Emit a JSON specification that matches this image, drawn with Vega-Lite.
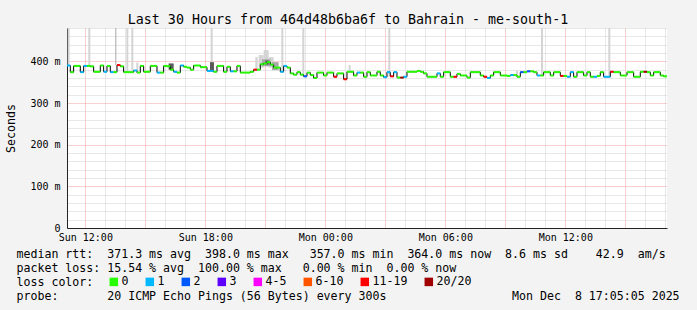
{
  "$schema": "https://vega.github.io/schema/vega-lite/v6.json",
  "width": 600,
  "height": 200,
  "autosize": {"type": "none"},
  "padding": {"left": 67, "top": 28, "right": 30, "bottom": 82},
  "background": "#f3f3f3",
  "view": {"fill": "#ffffff", "stroke": null},
  "title": {"text": "Last 30 Hours from 464d48b6ba6f to Bahrain - me-south-1", "font": "DejaVu Sans Mono", "fontSize": 13.3, "fontWeight": "normal", "color": "#000000", "frame": "group", "anchor": "middle", "dx": -19, "offset": -14, "baseline": "alphabetic"},
  "data": {"values": [
      {"t":"2025-12-07T11:05","m":0.390,"l":"1"},{"t":"2025-12-07T11:15","m":0.374,"l":"0"},{"t":"2025-12-07T11:25","m":0.389,"l":"0"},{"t":"2025-12-07T11:35","m":0.389,"l":"0"},{"t":"2025-12-07T11:45","m":0.374,"l":"1"},{"t":"2025-12-07T11:55","m":0.389,"l":"1"},
      {"t":"2025-12-07T12:05","m":0.389,"l":"0"},{"t":"2025-12-07T12:15","m":0.388,"l":"0"},{"t":"2025-12-07T12:25","m":0.375,"l":"0"},{"t":"2025-12-07T12:35","m":0.375,"l":"0"},{"t":"2025-12-07T12:45","m":0.390,"l":"0"},{"t":"2025-12-07T12:55","m":0.375,"l":"1"},
      {"t":"2025-12-07T13:05","m":0.389,"l":"0"},{"t":"2025-12-07T13:15","m":0.374,"l":"1"},{"t":"2025-12-07T13:25","m":0.374,"l":"0"},{"t":"2025-12-07T13:35","m":0.391,"l":"11-19"},{"t":"2025-12-07T13:45","m":0.388,"l":"0"},{"t":"2025-12-07T13:55","m":0.374,"l":"0"},
      {"t":"2025-12-07T14:05","m":0.374,"l":"0"},{"t":"2025-12-07T14:15","m":0.374,"l":"0"},{"t":"2025-12-07T14:25","m":0.378,"l":"1"},{"t":"2025-12-07T14:35","m":0.373,"l":"0"},{"t":"2025-12-07T14:45","m":0.389,"l":"0"},{"t":"2025-12-07T14:55","m":0.375,"l":"0"},
      {"t":"2025-12-07T15:05","m":0.375,"l":"0"},{"t":"2025-12-07T15:15","m":0.389,"l":"0"},{"t":"2025-12-07T15:25","m":0.389,"l":"0"},{"t":"2025-12-07T15:35","m":0.373,"l":"1"},{"t":"2025-12-07T15:45","m":0.373,"l":"0"},{"t":"2025-12-07T15:55","m":0.389,"l":"0"},
      {"t":"2025-12-07T16:05","m":0.388,"l":"0"},{"t":"2025-12-07T16:15","m":0.380,"l":"0"},{"t":"2025-12-07T16:25","m":0.375,"l":"1"},{"t":"2025-12-07T16:35","m":0.373,"l":"0"},{"t":"2025-12-07T16:45","m":0.390,"l":"1"},{"t":"2025-12-07T16:55","m":0.387,"l":"0"},
      {"t":"2025-12-07T17:05","m":0.385,"l":"0"},{"t":"2025-12-07T17:15","m":0.380,"l":"0"},{"t":"2025-12-07T17:25","m":0.390,"l":"0"},{"t":"2025-12-07T17:35","m":0.390,"l":"0"},{"t":"2025-12-07T17:45","m":0.386,"l":"0"},{"t":"2025-12-07T17:55","m":0.386,"l":"0"},
      {"t":"2025-12-07T18:05","m":0.377,"l":"1"},{"t":"2025-12-07T18:15","m":0.377,"l":"1"},{"t":"2025-12-07T18:25","m":0.375,"l":"0"},{"t":"2025-12-07T18:35","m":0.389,"l":"0"},{"t":"2025-12-07T18:45","m":0.389,"l":"0"},{"t":"2025-12-07T18:55","m":0.375,"l":"0"},
      {"t":"2025-12-07T19:05","m":0.387,"l":"0"},{"t":"2025-12-07T19:15","m":0.376,"l":"1"},{"t":"2025-12-07T19:25","m":0.376,"l":"0"},{"t":"2025-12-07T19:35","m":0.389,"l":"0"},{"t":"2025-12-07T19:45","m":0.373,"l":"0"},{"t":"2025-12-07T19:55","m":0.373,"l":"0"},
      {"t":"2025-12-07T20:05","m":0.373,"l":"0"},{"t":"2025-12-07T20:15","m":0.375,"l":"0"},{"t":"2025-12-07T20:25","m":0.380,"l":"11-19"},{"t":"2025-12-07T20:35","m":0.380,"l":"0"},{"t":"2025-12-07T20:45","m":0.393,"l":"0"},{"t":"2025-12-07T20:55","m":0.395,"l":"0"},
      {"t":"2025-12-07T21:05","m":0.398,"l":"0"},{"t":"2025-12-07T21:15","m":0.392,"l":"0"},{"t":"2025-12-07T21:25","m":0.385,"l":"0"},{"t":"2025-12-07T21:35","m":0.385,"l":"0"},{"t":"2025-12-07T21:45","m":0.375,"l":"1"},{"t":"2025-12-07T21:55","m":0.389,"l":"1"},
      {"t":"2025-12-07T22:05","m":0.385,"l":"0"},{"t":"2025-12-07T22:15","m":0.371,"l":"0"},{"t":"2025-12-07T22:25","m":0.368,"l":"0"},{"t":"2025-12-07T22:35","m":0.374,"l":"0"},{"t":"2025-12-07T22:45","m":0.368,"l":"0"},{"t":"2025-12-07T22:55","m":0.364,"l":"2"},
      {"t":"2025-12-07T23:05","m":0.373,"l":"0"},{"t":"2025-12-07T23:15","m":0.367,"l":"0"},{"t":"2025-12-07T23:25","m":0.360,"l":"0"},{"t":"2025-12-07T23:35","m":0.373,"l":"0"},{"t":"2025-12-07T23:45","m":0.373,"l":"0"},{"t":"2025-12-07T23:55","m":0.366,"l":"0"},
      {"t":"2025-12-08T00:05","m":0.373,"l":"0"},{"t":"2025-12-08T00:15","m":0.373,"l":"0"},{"t":"2025-12-08T00:25","m":0.363,"l":"11-19"},{"t":"2025-12-08T00:35","m":0.371,"l":"0"},{"t":"2025-12-08T00:45","m":0.371,"l":"0"},{"t":"2025-12-08T00:55","m":0.357,"l":"11-19"},
      {"t":"2025-12-08T01:05","m":0.375,"l":"0"},{"t":"2025-12-08T01:15","m":0.375,"l":"0"},{"t":"2025-12-08T01:25","m":0.366,"l":"0"},{"t":"2025-12-08T01:35","m":0.373,"l":"1"},{"t":"2025-12-08T01:45","m":0.373,"l":"0"},{"t":"2025-12-08T01:55","m":0.363,"l":"0"},
      {"t":"2025-12-08T02:05","m":0.374,"l":"0"},{"t":"2025-12-08T02:15","m":0.366,"l":"0"},{"t":"2025-12-08T02:25","m":0.366,"l":"0"},{"t":"2025-12-08T02:35","m":0.375,"l":"0"},{"t":"2025-12-08T02:45","m":0.366,"l":"0"},{"t":"2025-12-08T02:55","m":0.362,"l":"1"},
      {"t":"2025-12-08T03:05","m":0.374,"l":"1"},{"t":"2025-12-08T03:15","m":0.364,"l":"11-19"},{"t":"2025-12-08T03:25","m":0.374,"l":"1"},{"t":"2025-12-08T03:35","m":0.361,"l":"0"},{"t":"2025-12-08T03:45","m":0.361,"l":"20/20"},{"t":"2025-12-08T03:55","m":0.363,"l":"1"},
      {"t":"2025-12-08T04:05","m":0.375,"l":"0"},{"t":"2025-12-08T04:15","m":0.375,"l":"0"},{"t":"2025-12-08T04:25","m":0.375,"l":"0"},{"t":"2025-12-08T04:35","m":0.377,"l":"0"},{"t":"2025-12-08T04:45","m":0.375,"l":"0"},{"t":"2025-12-08T04:55","m":0.371,"l":"0"},
      {"t":"2025-12-08T05:05","m":0.363,"l":"0"},{"t":"2025-12-08T05:15","m":0.363,"l":"0"},{"t":"2025-12-08T05:25","m":0.363,"l":"0"},{"t":"2025-12-08T05:35","m":0.371,"l":"1"},{"t":"2025-12-08T05:45","m":0.363,"l":"0"},{"t":"2025-12-08T05:55","m":0.374,"l":"0"},
      {"t":"2025-12-08T06:05","m":0.374,"l":"0"},{"t":"2025-12-08T06:15","m":0.363,"l":"0"},{"t":"2025-12-08T06:25","m":0.363,"l":"11-19"},{"t":"2025-12-08T06:35","m":0.370,"l":"0"},{"t":"2025-12-08T06:45","m":0.366,"l":"0"},{"t":"2025-12-08T06:55","m":0.366,"l":"0"},
      {"t":"2025-12-08T07:05","m":0.361,"l":"0"},{"t":"2025-12-08T07:15","m":0.374,"l":"0"},{"t":"2025-12-08T07:25","m":0.374,"l":"0"},{"t":"2025-12-08T07:35","m":0.374,"l":"0"},{"t":"2025-12-08T07:45","m":0.366,"l":"0"},{"t":"2025-12-08T07:55","m":0.363,"l":"11-19"},
      {"t":"2025-12-08T08:05","m":0.360,"l":"1"},{"t":"2025-12-08T08:15","m":0.366,"l":"0"},{"t":"2025-12-08T08:25","m":0.374,"l":"0"},{"t":"2025-12-08T08:35","m":0.374,"l":"0"},{"t":"2025-12-08T08:45","m":0.366,"l":"0"},{"t":"2025-12-08T08:55","m":0.366,"l":"0"},
      {"t":"2025-12-08T09:05","m":0.365,"l":"0"},{"t":"2025-12-08T09:15","m":0.367,"l":"1"},{"t":"2025-12-08T09:25","m":0.367,"l":"0"},{"t":"2025-12-08T09:35","m":0.363,"l":"0"},{"t":"2025-12-08T09:45","m":0.374,"l":"2"},{"t":"2025-12-08T09:55","m":0.374,"l":"0"},
      {"t":"2025-12-08T10:05","m":0.376,"l":"2"},{"t":"2025-12-08T10:15","m":0.376,"l":"0"},{"t":"2025-12-08T10:25","m":0.374,"l":"0"},{"t":"2025-12-08T10:35","m":0.366,"l":"1"},{"t":"2025-12-08T10:45","m":0.366,"l":"0"},{"t":"2025-12-08T10:55","m":0.374,"l":"0"},
      {"t":"2025-12-08T11:05","m":0.374,"l":"0"},{"t":"2025-12-08T11:15","m":0.366,"l":"0"},{"t":"2025-12-08T11:25","m":0.374,"l":"0"},{"t":"2025-12-08T11:35","m":0.374,"l":"0"},{"t":"2025-12-08T11:45","m":0.365,"l":"11-19"},{"t":"2025-12-08T11:55","m":0.365,"l":"0"},
      {"t":"2025-12-08T12:05","m":0.363,"l":"1"},{"t":"2025-12-08T12:15","m":0.374,"l":"1"},{"t":"2025-12-08T12:25","m":0.363,"l":"0"},{"t":"2025-12-08T12:35","m":0.374,"l":"0"},{"t":"2025-12-08T12:45","m":0.374,"l":"0"},{"t":"2025-12-08T12:55","m":0.366,"l":"0"},
      {"t":"2025-12-08T13:05","m":0.374,"l":"0"},{"t":"2025-12-08T13:15","m":0.363,"l":"0"},{"t":"2025-12-08T13:25","m":0.363,"l":"1"},{"t":"2025-12-08T13:35","m":0.365,"l":"0"},{"t":"2025-12-08T13:45","m":0.374,"l":"0"},{"t":"2025-12-08T13:55","m":0.363,"l":"1"},
      {"t":"2025-12-08T14:05","m":0.363,"l":"1"},{"t":"2025-12-08T14:15","m":0.375,"l":"11-19"},{"t":"2025-12-08T14:25","m":0.374,"l":"0"},{"t":"2025-12-08T14:35","m":0.374,"l":"0"},{"t":"2025-12-08T14:45","m":0.366,"l":"0"},{"t":"2025-12-08T14:55","m":0.366,"l":"0"},
      {"t":"2025-12-08T15:05","m":0.374,"l":"0"},{"t":"2025-12-08T15:15","m":0.374,"l":"0"},{"t":"2025-12-08T15:25","m":0.363,"l":"0"},{"t":"2025-12-08T15:35","m":0.363,"l":"0"},{"t":"2025-12-08T15:45","m":0.375,"l":"0"},{"t":"2025-12-08T15:55","m":0.375,"l":"20/20"},
      {"t":"2025-12-08T16:05","m":0.374,"l":"0"},{"t":"2025-12-08T16:15","m":0.366,"l":"0"},{"t":"2025-12-08T16:25","m":0.374,"l":"0"},{"t":"2025-12-08T16:35","m":0.374,"l":"0"},{"t":"2025-12-08T16:45","m":0.366,"l":"0"},{"t":"2025-12-08T16:55","m":0.364,"l":"0"},
      {"t":"2025-12-08T17:05","m":0.364,"l":"0"}
  ]},
  "layer": [
    {
      "data": {"values": [
        {"t":"2025-12-07T11:07","t2":"2025-12-07T11:13","lo":0.390,"hi":0.48,"g":"light"},
        {"t":"2025-12-07T12:09","t2":"2025-12-07T12:15","lo":0.389,"hi":0.48,"g":"light"},
        {"t":"2025-12-07T13:30","t2":"2025-12-07T13:33","lo":0.391,"hi":0.48,"g":"mid"},
        {"t":"2025-12-07T14:03","t2":"2025-12-07T14:09","lo":0.374,"hi":0.48,"g":"light"},
        {"t":"2025-12-07T14:18","t2":"2025-12-07T14:24","lo":0.378,"hi":0.48,"g":"light"},
        {"t":"2025-12-07T14:33","t2":"2025-12-07T14:39","lo":0.373,"hi":0.397,"g":"light"},
        {"t":"2025-12-07T16:10","t2":"2025-12-07T16:25","lo":0.380,"hi":0.395,"g":"dark"},
        {"t":"2025-12-07T18:16","t2":"2025-12-07T18:22","lo":0.377,"hi":0.48,"g":"light"},
        {"t":"2025-12-07T18:14","t2":"2025-12-07T18:26","lo":0.377,"hi":0.398,"g":"dark"},
        {"t":"2025-12-07T20:30","t2":"2025-12-07T20:37","lo":0.380,"hi":0.41,"g":"light"},
        {"t":"2025-12-07T20:40","t2":"2025-12-07T20:55","lo":0.385,"hi":0.415,"g":"light"},
        {"t":"2025-12-07T20:55","t2":"2025-12-07T21:10","lo":0.390,"hi":0.427,"g":"light"},
        {"t":"2025-12-07T21:10","t2":"2025-12-07T21:25","lo":0.385,"hi":0.41,"g":"light"},
        {"t":"2025-12-07T20:50","t2":"2025-12-07T21:15","lo":0.388,"hi":0.405,"g":"mid"},
        {"t":"2025-12-07T21:00","t2":"2025-12-07T21:10","lo":0.392,"hi":0.402,"g":"dark"},
        {"t":"2025-12-07T21:20","t2":"2025-12-07T21:40","lo":0.379,"hi":0.398,"g":"mid"},
        {"t":"2025-12-07T21:48","t2":"2025-12-07T21:54","lo":0.375,"hi":0.48,"g":"light"},
        {"t":"2025-12-07T22:51","t2":"2025-12-07T22:57","lo":0.364,"hi":0.48,"g":"light"},
        {"t":"2025-12-08T01:10","t2":"2025-12-08T01:16","lo":0.375,"hi":0.391,"g":"light"},
        {"t":"2025-12-08T03:09","t2":"2025-12-08T03:15","lo":0.364,"hi":0.48,"g":"light"},
        {"t":"2025-12-08T09:32","t2":"2025-12-08T09:38","lo":0.363,"hi":0.377,"g":"light"},
        {"t":"2025-12-08T10:47","t2":"2025-12-08T10:53","lo":0.366,"hi":0.48,"g":"light"},
        {"t":"2025-12-08T14:09","t2":"2025-12-08T14:15","lo":0.363,"hi":0.48,"g":"light"}
      ]},
      "mark": {"type": "rect", "clip": true},
      "encoding": {
        "x": {
          "field": "t", "type": "temporal",
          "scale": {"domain": [{"year": 2025, "month": 12, "date": 7, "hours": 11, "minutes": 5, "seconds": 5}, {"year": 2025, "month": 12, "date": 8, "hours": 17, "minutes": 5, "seconds": 5}]},
          "axis": {
            "title": [
              "median rtt:\u00a0\u00a0371.3 ms avg\u00a0\u00a0398.0 ms max\u00a0\u00a0\u00a0357.0 ms min\u00a0\u00a0364.0 ms now\u00a0\u00a08.6 ms sd\u00a0\u00a0\u00a0\u00a042.9\u00a0\u00a0am/s",
              "packet loss:\u00a015.54 % avg\u00a0\u00a0100.00 % max\u00a0\u00a0\u00a00.00 % min\u00a0\u00a00.00 % now",
              "loss color:",
              "probe:\u00a0\u00a0\u00a0\u00a0\u00a0\u00a0\u00a020 ICMP Echo Pings (56 Bytes) every 300s\u00a0\u00a0\u00a0\u00a0\u00a0\u00a0\u00a0\u00a0\u00a0\u00a0\u00a0\u00a0\u00a0\u00a0\u00a0\u00a0\u00a0\u00a0Mon Dec\u00a0\u00a08 17:05:05 2025"
            ],
            "titleFont": "DejaVu Sans Mono", "titleFontSize": 11.6, "titleFontWeight": "normal", "titleColor": "#000000",
            "titleX": -51, "titleY": 20, "titleAlign": "left", "titleBaseline": "top", "titleLineHeight": 14.3,
            "tickCount": 30,
            "grid": true,
            "gridColor": {"condition": {"test": "hours(datum.value) % 3 == 0", "value": "#f2a0a0"}, "value": "#d0d0d0"},
            "gridDash": [1, 1],
            "labelExpr": "hours(datum.value) % 6 == 0 ? timeFormat(datum.value, '%a %H:%M') : ''",
            "labelOverlap": false,
            "labelFont": "DejaVu Sans Mono", "labelFontSize": 10, "labelColor": "#000000", "labelPadding": 4,
            "ticks": false, "domainColor": "#222222"
          }
        },
        "x2": {"field": "t2"},
        "y": {
          "field": "lo", "type": "quantitative",
          "scale": {"domain": [0, 0.48], "nice": false, "zero": true},
          "axis": {
            "title": "Seconds", "titleFont": "DejaVu Sans Mono", "titleFontSize": 11.6, "titleFontWeight": "normal", "titleColor": "#000000",
            "titleX": -56, "titleY": 100, "titleAlign": "center", "titleBaseline": "middle", "titleAngle": -90,
            "values": [0,0.02,0.04,0.06,0.08,0.1,0.12,0.14,0.16,0.18,0.2,0.22,0.24,0.26,0.28,0.3,0.32,0.34,0.36,0.38,0.4,0.42,0.44,0.46,0.48],
            "tickCount": 30,
            "grid": true,
            "gridColor": {"condition": {"test": "round(datum.value*1000) % 100 == 0", "value": "#f2a0a0"}, "value": "#d0d0d0"},
            "gridDash": [1, 1],
            "labelExpr": "datum.value == 0 ? '0\u00a0\u00a0' : (round(datum.value*1000) % 100 == 0 ? round(datum.value*1000) + ' m' : '')",
            "labelOverlap": false,
            "labelFont": "DejaVu Sans Mono", "labelFontSize": 10, "labelColor": "#000000", "labelPadding": 7,
            "ticks": false, "domainColor": "#222222"
          }
        },
        "y2": {"field": "hi"},
        "fill": {"field": "g", "type": "nominal", "scale": {"domain": ["light", "mid", "dark"], "range": ["#d4d4d4", "#a8a8a8", "#5a5a5a"]}, "legend": null}
      }
    },
    {
      "mark": {"type": "line", "interpolate": "step-after", "color": "#000000", "strokeWidth": 1, "clip": true},
      "encoding": {
        "x": {"field": "t", "type": "temporal"},
        "y": {"field": "m", "type": "quantitative"}
      }
    },
    {
      "transform": [
        {"window": [{"op": "lead", "field": "t", "as": "t2"}]},
        {"filter": "datum.t2 != null"}
      ],
      "mark": {"type": "rule", "strokeWidth": 2, "clip": true},
      "encoding": {
        "x": {"field": "t", "type": "temporal"},
        "x2": {"field": "t2"},
        "y": {"field": "m", "type": "quantitative"},
        "color": {
          "field": "l", "type": "nominal",
          "scale": {"domain": ["0", "1", "2", "3", "4-5", "6-10", "11-19", "20/20"], "range": ["#26ff00", "#00b8ff", "#0059ff", "#5e00ff", "#ff00ff", "#ff5500", "#ff0000", "#a00000"]},
          "legend": {"orient": "none", "legendX": 41, "legendY": 248, "direction": "horizontal", "title": null, "symbolType": "square", "symbolSize": 16, "symbolStrokeWidth": 4.5, "labelOffset": 2, "columnPadding": 9, "labelFont": "DejaVu Sans Mono", "labelFontSize": 11.6, "labelColor": "#000000"}
        }
      }
    }
  ]
}
